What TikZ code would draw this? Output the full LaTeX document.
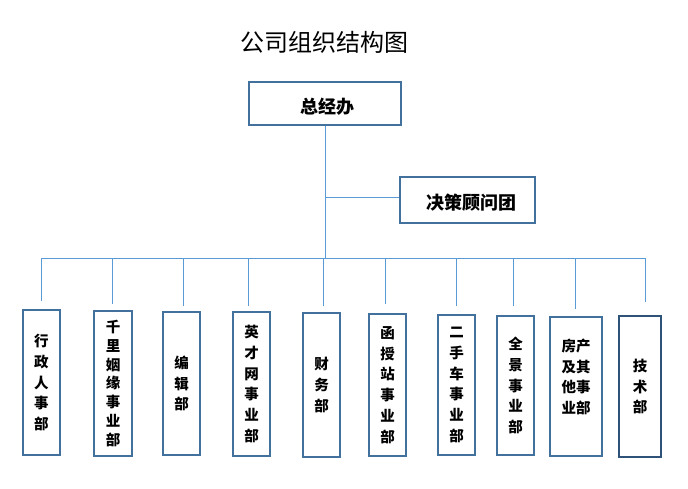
\documentclass[tikz,border=0pt]{standalone}
\usepackage{fontspec}
\newfontfamily\cjk{Noto Sans CJK SC}
\definecolor{boxblue}{HTML}{41719C}
\definecolor{darkblue}{HTML}{2F5378}
\definecolor{linkblue}{HTML}{5B9BD5}
\tikzset{
	box/.style={draw=boxblue, line width=1.1pt, inner sep=0pt},
	link/.style={draw=linkblue, line width=0.9pt},
	depttext/.style={font=\cjk\bfseries\fontsize{14.5}{#1}\selectfont, align=center}
}
\begin{document}
\begin{tikzpicture}[x=1pt, y=-1pt]
	\useasboundingbox (0,0) rectangle (688,489);
	\node[font=\cjk\fontsize{24}{24}\selectfont] (title) at (324,42) {公司组织结构图};
	\node[box, minimum width=152pt, minimum height=43pt] (zjb) at (325,103.5) {};
	\node[font=\cjk\bfseries\fontsize{18}{18}\selectfont] at (327,107) {总经办};
	\node[box, minimum width=135pt, minimum height=46pt] (jc) at (467.5,200) {};
	\node[font=\cjk\bfseries\fontsize{18}{18}\selectfont] at (471,203) {决策顾问团};
	% trunk and branch
	\coordinate (fork) at (325,197);
	\coordinate (hub) at (325,258);
	\draw[link] (zjb.south) -- (hub);
	\draw[link] (fork) -- (fork -| jc.west);
	% departments
	\foreach \i/\xa/\xb/\ya/\yb/\lx/\le/\ls/\txt in {
		1/23/60/310/455/41/301/20.7/{行\\政\\人\\事\\部},
		2/94/132/311/456/112/304/18.8/{千\\里\\姻\\缘\\事\\业\\部},
		3/163/200/312/455/183/306/20.7/{编\\辑\\部},
		4/233/270/312/456/248/306/20.7/{英\\才\\网\\事\\业\\部},
		5/303/340/313/457/323/306/20.7/{财\\务\\部},
		6/369/406/314/456/385/304/20.7/{函\\授\\站\\事\\业\\部},
		7/438/475/315/455/456/306/20.7/{二\\手\\车\\事\\业\\部},
		8/497/534/316/455/513/306/20.7/{全\\景\\事\\业\\部},
		9/550/602/317/456/575/309/20.5/{房产\\及其\\他事\\业部\\~},
		10/619/661/316/457/645/302/20.7/{技\\术\\部}} {
		\node[box, depttext=\ls, minimum width={(\xb-\xa)*1pt}, minimum height={(\yb-\ya)*1pt}] (d\i) at ({(\xa+\xb)/2},{(\ya+\yb)/2}) {\txt};
		\coordinate (t\i) at (\lx,258);
		\coordinate (e\i) at (\lx,\le);
		\draw[link] (t\i) -- (e\i);
	}
	\draw[link] (t1) -- (t10);
	\node[draw=darkblue, line width=1.1pt, minimum width=42pt, minimum height=141pt] at (d10) {};
\end{tikzpicture}
\end{document}
